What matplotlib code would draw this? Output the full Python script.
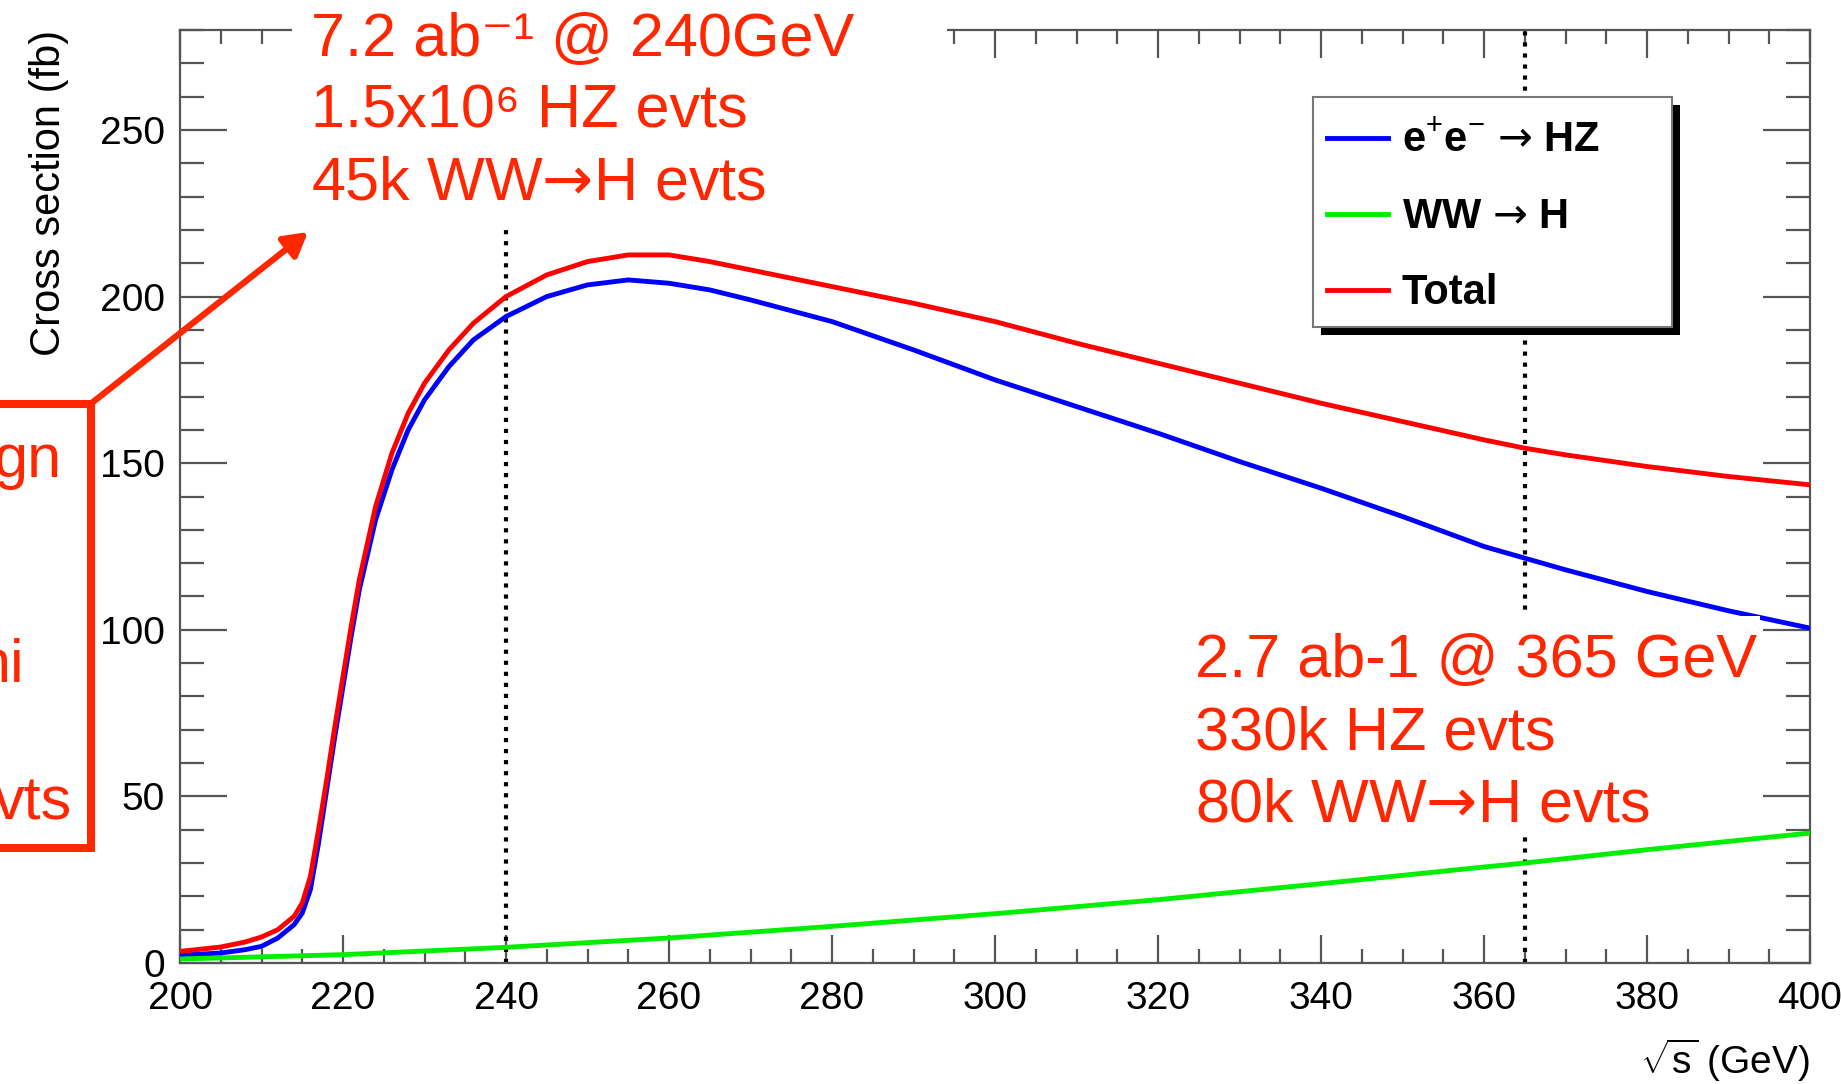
import matplotlib
matplotlib.use("Agg")
import matplotlib.pyplot as plt
from matplotlib.patches import Rectangle, FancyArrowPatch
from matplotlib.lines import Line2D
from matplotlib.ticker import MultipleLocator

plt.rcParams['font.family'] = ['Liberation Sans', 'DejaVu Sans']
plt.rcParams['mathtext.fontset'] = 'custom'
plt.rcParams['mathtext.rm'] = 'Liberation Sans'
plt.rcParams['mathtext.it'] = 'Liberation Sans:italic'
plt.rcParams['mathtext.bf'] = 'Liberation Sans:bold'
plt.rcParams['mathtext.sf'] = 'DejaVu Sans'   # used only for the long arrows

# centre-of-mass energy (GeV)
sqrt_s = [200, 202, 205, 208, 210, 212, 214, 215, 216, 217, 218, 219, 220, 221,
          222, 224, 226, 228, 230, 233, 236, 240, 245, 250, 255, 260, 265, 270,
          280, 290, 300, 310, 320, 330, 340, 350, 360, 365, 370, 380, 390, 400]
# cross sections (fb)
xs_hz = [2.4, 2.6, 3.0, 4.0, 5.0, 7.5, 11.5, 15, 22, 36, 52, 68, 83, 98,
         112, 133, 148, 160, 169, 179, 187, 194, 200, 203.5, 205, 204, 202, 199,
         192.5, 184, 175, 167, 159, 150.5, 142.5, 134, 125, 121.5, 118, 111.5, 105.7, 100.5]
xs_total = [3.5, 4.0, 4.8, 6.3, 7.8, 10, 14, 18, 26, 40, 55, 71, 86, 101,
            115, 137, 153, 165, 174, 184, 192, 200, 206.5, 210.5, 212.5, 212.5, 210.5, 208,
            203, 198, 192.5, 186, 180, 174, 168, 162.5, 157, 154.5, 152.5, 149, 146, 143.5]
ww_energy = [200, 220, 240, 260, 280, 300, 320, 340, 360, 365, 380, 400]
xs_ww = [1.2, 2.5, 4.7, 7.5, 11, 14.8, 19, 23.8, 28.8, 30, 34, 39]

run_points = [240, 365]
labels = [r'e$^{+}$e$^{-}$ $\mathsf{→}$ HZ', r'WW $\mathsf{→}$ H', 'Total']
colors = ['#0000ff', '#00ee00', '#ff0000']

top_note = ['7.2 ab⁻¹ @ 240GeV', '1.5x10⁶ HZ evts', r'45k WW$\mathsf{→}$H evts']
low_note = ['2.7 ab-1 @ 365 GeV', '330k HZ evts', r'80k WW$\mathsf{→}$H evts']
box_note = ['gn', 'ni', 'vts']
note_red = '#ff2600'

W, H = 1841, 1084
fig = plt.figure(figsize=(W / 100, H / 100), dpi=100)

def fx(px):
    return px / W

def fy(py):
    return 1 - py / H

ax = fig.add_axes([fx(180), fy(963), fx(1810) - fx(180), fy(30) - fy(963)])

ax.plot(sqrt_s, xs_hz, color=colors[0], lw=3.5, zorder=3)
ax.plot(ww_energy, xs_ww, color=colors[1], lw=3.5, zorder=3)
ax.plot(sqrt_s, xs_total, color=colors[2], lw=3.5, zorder=3)
for e in run_points:
    ax.axvline(e, color='black', ls=':', lw=3, dash_capstyle='butt', zorder=2)

ax.set_xlim(200, 400)
ax.set_ylim(0, 280)
ax.xaxis.set_major_locator(MultipleLocator(20))
ax.xaxis.set_minor_locator(MultipleLocator(5))
ax.yaxis.set_major_locator(MultipleLocator(50))
ax.yaxis.set_minor_locator(MultipleLocator(10))
frame_col = '#555555'
for sp in ax.spines.values():
    sp.set_color(frame_col)
    sp.set_linewidth(1.6)
ax.tick_params(which='both', direction='in', top=True, right=True, color=frame_col,
               width=1.6, labelsize=28)
ax.tick_params(axis='x', which='major', length=20, pad=13)
ax.tick_params(axis='x', which='minor', length=10)
ax.tick_params(axis='y', which='major', length=34, pad=11)
ax.tick_params(axis='y', which='minor', length=17)

ax.set_xlabel(r'$\sqrt{\mathregular{s}}$ (GeV)', loc='right', fontsize=28, labelpad=14)
ax.set_ylabel('Cross section (fb)', loc='top', fontsize=30, labelpad=22)

# legend with ROOT-like drop shadow
fig.patches.append(Rectangle((fx(1321), fy(335)), fx(1680) - fx(1321), fy(105) - fy(335),
                             transform=fig.transFigure, facecolor='black', edgecolor='none', zorder=4))
fig.patches.append(Rectangle((fx(1313), fy(327)), fx(1672) - fx(1313), fy(97) - fy(327),
                             transform=fig.transFigure, facecolor='white', edgecolor='#777777',
                             lw=1.5, zorder=5))
for i, (lab, col) in enumerate(zip(labels, colors)):
    yy = fy(138 + 76 * i)
    fig.add_artist(Line2D([fx(1327), fx(1388)], [yy, yy], color=col, lw=3.5, zorder=6))
    fig.text(fx(1402), fy(152 + 76 * i), lab, fontsize=30, fontweight='bold',
             va='baseline', ha='left', zorder=6)

# white boxes behind the red notes
fig.patches.append(Rectangle((fx(292), fy(230)), fx(947) - fx(292), fy(0) - fy(230),
                             transform=fig.transFigure, facecolor='white', edgecolor='none', zorder=4))
fig.patches.append(Rectangle((fx(1185), fy(832)), fx(1760) - fx(1185), fy(616) - fy(832),
                             transform=fig.transFigure, facecolor='white', edgecolor='none', zorder=4))

for i, t in enumerate(top_note):
    fig.text(fx(311), fy(56 + 72 * i), t, color=note_red, fontsize=44, va='baseline', ha='left', zorder=6)
for i, t in enumerate(low_note):
    fig.text(fx(1195), fy(677 + 72 * i), t, color=note_red, fontsize=44, va='baseline', ha='left', zorder=6)

# cropped red box on the left with arrow
fig.patches.append(Rectangle((fx(-30), fy(848)), fx(91) - fx(-30), fy(404) - fy(848),
                             transform=fig.transFigure, facecolor='none', edgecolor=note_red,
                             lw=5.8, zorder=6))
for t, base, right in zip(box_note, [477, 682, 820], [62, 25, 72]):
    fig.text(fx(right), fy(base), t, color=note_red, fontsize=44, va='baseline', ha='right', zorder=6)
fig.add_artist(FancyArrowPatch((fx(93), fy(402)), (fx(308), fy(232)), transform=fig.transFigure,
                               arrowstyle='-|>,head_length=14,head_width=8', color=note_red,
                               lw=4.5, zorder=7, shrinkA=0, shrinkB=0))

fig.savefig('out.png', dpi=100)
